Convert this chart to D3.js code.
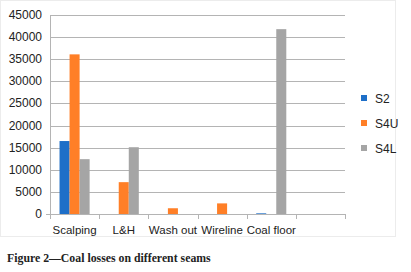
<!DOCTYPE html>
<html>
<head>
<meta charset="utf-8">
<script src="https://cdn.jsdelivr.net/npm/d3@7"></script>
<style>
  body { margin: 0; background: #fff; }
  svg text { font-family: Arial, "Liberation Sans", sans-serif; fill: #222; }
  .caption { font-family: "Liberation Serif", "Times New Roman", serif; font-weight: bold; }
</style>
</head>
<body>
<div id="chart"></div>
<script>
// categories (last slot is empty in the original chart)
const categories = ['Scalping', 'L&H', 'Wash out', 'Wireline', 'Coal floor', '']
const seriesNames = ['S2', 'S4U', 'S4L']
const s2Values = [16500, 0, 0, 0, 150, 0]
const s4uValues = [36100, 7200, 1300, 2400, 0, 0]
const s4lValues = [12400, 15100, 0, 0, 41800, 0]
const yTicks = [0, 5000, 10000, 15000, 20000, 25000, 30000, 35000, 40000, 45000]
const colors = ['#1e6fc8', '#ff7f27', '#a5a5a5']

const W = 411, H = 272
const svg = d3.select('#chart').append('svg')
    .attr('width', W).attr('height', H)

// faint chart frame
svg.append('rect')
    .attr('x', 0.5).attr('y', 0.5)
    .attr('width', 395).attr('height', 236)
    .attr('fill', 'none').attr('stroke', '#ececec')

const x0 = d3.scaleBand().domain(categories).range([50, 345])
const y = d3.scaleLinear().domain([0, 45000]).range([214, 15])

// gridlines
svg.append('g').selectAll('line')
    .data(yTicks.slice(1))
    .enter().append('line')
    .attr('x1', 50).attr('x2', 345)
    .attr('y1', d => Math.round(y(d)) + 0.5).attr('y2', d => Math.round(y(d)) + 0.5)
    .attr('stroke', '#b4b4b4')

// y labels
svg.append('g').selectAll('text')
    .data(yTicks)
    .enter().append('text')
    .attr('x', 42).attr('y', d => y(d) + 4)
    .attr('text-anchor', 'end')
    .style('font-size', '12px')
    .text(d => d)

// bars
const data = categories.map((c, i) => ({cat: c, vals: [s2Values[i], s4uValues[i], s4lValues[i]]}))
const x1 = d3.scaleBand().domain(seriesNames).range([0, x0.bandwidth()]).paddingInner(0).paddingOuter(0.95)

let groups = svg.append('g').selectAll('g')
    .data(data)
    .enter().append('g')
    .attr('transform', d => 'translate(' + x0(d.cat) + ',0)')

groups.selectAll('rect')
    .data(d => d.vals.map((v, k) => ({name: seriesNames[k], v: v, k: k})))
    .enter().append('rect')
    .attr('x', d => x1(d.name))
    .attr('width', x1.bandwidth())
    .attr('y', d => y(d.v))
    .attr('height', d => y(0) - y(d.v))
    .attr('fill', d => colors[d.k])

// axes lines
svg.append('line').attr('x1', 50.5).attr('x2', 50.5).attr('y1', 15).attr('y2', 214)
    .attr('stroke', '#b4b4b4')
svg.append('line').attr('x1', 46).attr('x2', 345).attr('y1', 214.5).attr('y2', 214.5)
    .attr('stroke', '#b4b4b4')
let tickPos = categories.map(c => x0(c)).concat([x0.range()[1]])
svg.append('g').selectAll('line')
    .data(tickPos)
    .enter().append('line')
    .attr('x1', d => Math.round(d) + 0.5).attr('x2', d => Math.round(d) + 0.5)
    .attr('y1', 214).attr('y2', 219)
    .attr('stroke', '#b4b4b4')

// x labels
svg.append('g').selectAll('text')
    .data(categories)
    .enter().append('text')
    .attr('x', d => x0(d) + x0.bandwidth() / 2)
    .attr('y', 234)
    .attr('text-anchor', 'middle')
    .style('font-size', '11.5px')
    .text(d => d)

// legend
let legend = svg.append('g').selectAll('g')
    .data(seriesNames)
    .enter().append('g')
    .attr('transform', (d, i) => 'translate(361,' + (98 + i * 25) + ')')
legend.append('rect')
    .attr('x', 0).attr('y', -3).attr('width', 6).attr('height', 6)
    .attr('fill', (d, i) => colors[i])
legend.append('text')
    .attr('x', 14).attr('y', 4.5)
    .style('font-size', '12px')
    .text(d => d)

// caption
svg.append('text')
    .attr('class', 'caption')
    .attr('x', 7).attr('y', 262)
    .style('font-size', '11.8px')
    .text('Figure 2\u2014Coal losses on different seams')
</script>
</body>
</html>
